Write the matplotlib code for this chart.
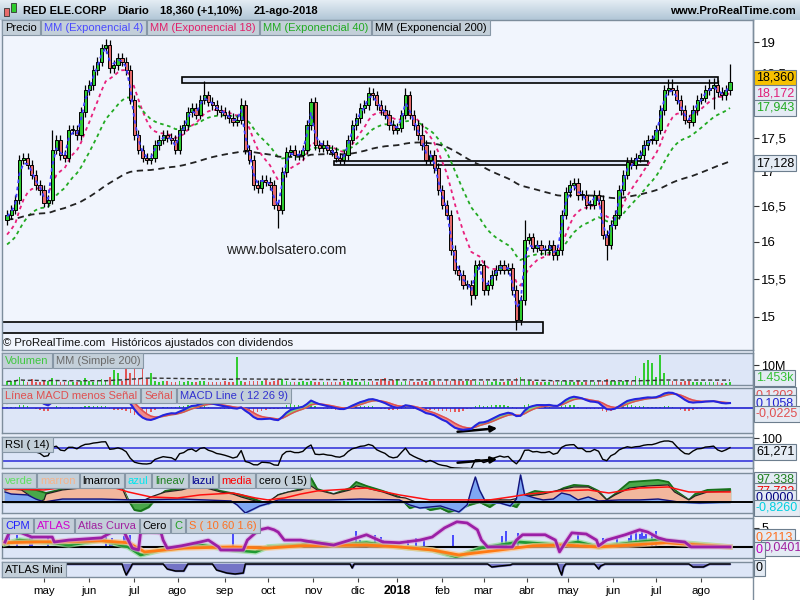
import matplotlib
matplotlib.use("Agg")
import matplotlib.pyplot as plt
from matplotlib.patches import Rectangle
from matplotlib.colors import LinearSegmentedColormap
import numpy as np
import pandas as pd

plt.rcParams["font.family"] = ["Liberation Sans", "DejaVu Sans"]

W, H = 800, 600

# ---------------------------------------------------------------- data
first_day, last_day = "2017-03-31", "2018-08-21"
holidays = ["2017-04-14", "2017-04-17", "2017-05-01", "2017-12-25", "2017-12-26",
            "2018-01-01", "2018-03-30", "2018-04-02", "2018-05-01"]

# one candle every two sessions, closes
closes = [
    16.38, 16.45, 16.59, 17.17, 17.20, 17.10, 16.95, 16.80, 16.73, 16.55,
    16.59, 17.32, 17.47, 17.24, 17.20, 17.62, 17.62, 17.54, 17.89, 18.23,
    18.31, 18.55, 18.68, 18.90, 18.95, 18.58, 18.63, 18.74, 18.68, 18.55,
    18.08, 17.54, 17.32, 17.20, 17.17, 17.20, 17.39, 17.47, 17.54, 17.50,
    17.47, 17.32, 17.62, 17.69, 17.89, 17.95, 17.85, 18.08, 18.15, 18.05,
    18.00, 17.92, 17.89, 17.85, 17.80, 17.74, 17.77, 18.00, 17.32, 17.17,
    16.80, 16.76, 16.88, 16.85, 16.80, 16.52, 16.45, 16.99, 17.29, 17.32,
    17.24, 17.24, 17.32, 17.69, 18.05, 17.39, 17.35, 17.39, 17.32, 17.29,
    17.20, 17.17, 17.24, 17.47, 17.69, 17.80, 17.95, 18.00, 18.19, 18.15,
    18.00, 17.92, 17.85, 17.69, 17.62, 17.65, 17.85, 18.15, 17.85, 17.69,
    17.54, 17.39, 17.17, 17.24, 17.05, 16.73, 16.52, 16.38, 15.89, 15.62,
    15.55, 15.42, 15.42, 15.29, 15.69, 15.69, 15.35, 15.42, 15.55, 15.62,
    15.69, 15.62, 15.65, 15.35, 14.96, 15.22, 16.03, 16.06, 15.92, 15.96,
    15.89, 15.89, 15.96, 15.82, 15.89, 16.38, 16.70, 16.80, 16.83, 16.66,
    16.66, 16.52, 16.52, 16.66, 16.59, 16.10, 15.96, 16.24, 16.38, 16.73,
    16.95, 17.14, 17.10, 17.20, 17.24, 17.39, 17.47, 17.47, 17.62, 17.92,
    18.23, 18.26, 18.23, 18.08, 17.92, 17.77, 17.74, 17.92, 18.08, 18.11,
    18.23, 18.26, 18.31, 18.20, 18.15, 18.23, 18.36,
]
first_open = 16.30
spike_highs = {11: 17.62, 24: 19.05, 48: 18.38, 57: 18.10, 74: 18.10, 88: 18.28,
               97: 18.27, 101: 17.72, 126: 16.30, 161: 18.40, 162: 18.40,
               171: 18.41, 172: 18.42, 176: 18.65}
spike_lows = {66: 16.19, 113: 15.15, 124: 14.83, 146: 15.75, 166: 17.64, 172: 17.94}

# volume in millions, one value per candle
volumes = [
    1.8, 2.0, 2.4, 4.0, 1.9, 1.6, 3.0, 1.7, 1.4, 1.9,
    2.0, 3.5, 1.8, 1.6, 1.7, 2.2, 1.5, 1.7, 2.0, 3.5,
    1.8, 1.6, 1.9, 3.0, 2.1, 4.0, 7.5, 6.0, 2.2, 9.0,
    6.0, 9.0, 3.5, 15.0, 3.0, 6.0, 2.2, 1.7, 1.9, 2.2,
    1.6, 1.4, 1.8, 1.7, 1.9, 1.5, 1.7, 2.2, 1.8, 1.6,
    1.4, 1.7, 1.5, 1.8, 1.4, 1.7, 14.0, 1.9, 1.6, 2.2,
    1.8, 2.0, 1.9, 2.6, 1.7, 2.0, 2.4, 3.0, 1.8, 1.6,
    1.7, 1.4, 1.8, 1.7, 1.9, 1.6, 1.4, 1.7, 1.5, 1.7,
    1.4, 1.6, 1.8, 1.7, 3.0, 1.6, 1.4, 1.9, 1.7, 2.0,
    1.7, 3.0, 3.5, 1.8, 2.6, 3.0, 1.6, 1.9, 2.2, 1.7,
    1.6, 1.8, 1.4, 1.9, 2.0, 2.2, 1.7, 2.4, 1.9, 2.6,
    2.0, 1.8, 2.2, 2.4, 1.9, 1.7, 2.0, 1.8, 1.6, 1.9,
    1.7, 1.6, 1.8, 2.2, 3.5, 4.0, 3.0, 2.2, 1.8, 1.6,
    1.7, 1.4, 1.6, 1.8, 1.7, 1.9, 2.2, 1.7, 1.6, 1.8,
    1.4, 1.7, 1.9, 1.6, 2.0, 1.8, 3.0, 2.2, 1.9, 1.7,
    2.0, 2.4, 2.2, 4.5, 3.5, 11.0, 12.5, 11.0, 4.0, 15.0,
    6.0, 2.2, 1.9, 2.0, 1.6, 1.8, 2.0, 1.7, 1.4, 1.6,
    1.3, 1.4, 1.6, 1.3, 1.2, 1.1, 1.4,
]

ema_days = [4, 18, 40, 200]
ema_seeds = [16.30, 16.03, 15.92, 16.31]
macd_seeds = {"fast": 16.22, "slow": 16.08, "signal": 0.10}
rsi_seeds = {"gain": 0.07, "loss": 0.04}

# drawn zones on the price chart: (from, to, low, high)
zones = [("2017-08-03", "2018-08-13", 18.342, 18.437),
         ("2017-11-15", "2018-06-26", 17.094, 17.152),
         ("2017-03-31", "2018-04-13", 14.794, 14.935)]

# proprietary indicators, (session, value)
verde = [(0, 109), (11, 101), (15, 94), (20, 70), (28, 101), (47, 125), (57, 117), (60, 16),
         (63, -62), (66, -70), (70, -39), (74, 39), (78, 86), (86, 109), (91, 133), (98, 117),
         (105, 86), (115, 55), (120, 31), (128, -16), (133, 55), (144, 101), (149, 187),
         (152, 101), (160, 62), (168, 109), (171, 156), (176, 125), (184, 86), (192, 39),
         (197, -47), (202, -23), (207, -62), (212, -47), (216, -78), (221, -55), (226, -23),
         (231, 0), (236, -39), (241, 16), (246, -23), (249, -39), (253, 55), (258, 86),
         (262, 78), (267, 70), (272, 109), (277, 133), (284, 125), (289, 86), (293, 16),
         (297, 62), (304, 156), (311, 164), (318, 172), (323, 156), (326, 94), (333, 16),
         (336, 62), (342, 94), (353, 101)]
marron = [(0, 94), (3, 101), (8, 94), (13, 39), (16, 0), (19, 16), (20, 62), (28, 94),
          (37, 109), (47, 125), (54, 125), (57, 109), (60, 0), (66, 0), (71, 39), (78, 78),
          (86, 94), (91, 117), (98, 109), (105, 78), (111, 62), (115, 39), (120, 16), (124, 0),
          (128, 0), (133, 55), (138, 78), (144, 94), (149, 125), (152, 94), (160, 62),
          (168, 94), (171, 125), (176, 109), (184, 78), (191, 39), (195, 31), (200, 0),
          (226, 0), (236, 16), (246, 16), (255, 47), (262, 62), (270, 94), (277, 117),
          (284, 117), (289, 78), (293, 16), (297, 55), (304, 109), (313, 125), (323, 133),
          (326, 78), (333, 16), (336, 47), (342, 78), (353, 86)]
azul = [(0, 78), (3, 62), (11, 55), (15, 23), (19, 0), (28, 23), (47, 23), (62, 16), (86, 23),
        (110, 8), (113, -23), (117, -86), (121, -55), (124, -31), (129, -8), (133, 16),
        (158, 16), (173, 23), (192, 16), (197, -23), (202, -47), (212, -31), (218, -62),
        (221, -78), (225, -23), (227, 94), (229, 195), (231, 94), (234, 0), (241, -8),
        (246, -31), (249, 23), (251, 211), (253, 55), (258, 31), (262, 16), (267, 23),
        (271, 70), (275, 55), (279, 16), (284, 39), (289, 8), (299, 16), (309, 16),
        (318, 23), (328, 0), (338, -8), (353, 0)]
media = [(0, 101), (19, 94), (39, 133), (52, 117), (60, 78), (71, 39), (84, 31), (95, 55),
         (111, 70), (122, 31), (128, 16), (136, 31), (144, 62), (152, 86), (176, 109),
         (192, 55), (207, 16), (221, 16), (236, 16), (246, 39), (255, 62), (270, 86),
         (284, 94), (294, 70), (309, 109), (323, 117), (333, 78), (353, 78)]

atlas_curva = [(0, 1.3), (2, 3.7), (5, 3.9), (8, 3.7), (13, 2.6), (23, 2.6), (24, 1.3),
               (31, 1.8), (47, 2.4), (52, 3.9), (58, 3.9), (60, 1.8), (62, -0.3), (65, -0.8),
               (66, 3.7), (70, 3.9), (76, 3.7), (77, 1.8), (79, -0.3), (86, 0.3), (95, 1.3),
               (99, 1.8), (104, 0.0), (105, -0.8), (116, -0.8), (118, 1.8), (122, 3.7),
               (124, 4.5), (128, 5.0), (131, 4.5), (133, 3.9), (136, 1.8), (144, 1.8),
               (152, 1.1), (160, 0.5), (168, 1.8), (176, 3.2), (184, 1.3), (192, 1.1),
               (202, 1.8), (208, 2.6), (214, 5.0), (220, 6.6), (225, 6.3), (230, 4.5),
               (232, 1.8), (235, 0.0), (247, 0.0), (249, 1.8), (252, 3.2), (263, 3.2),
               (268, 1.8), (270, -1.3), (273, 1.3), (276, 3.7), (283, 3.4), (288, 1.8),
               (289, 0.3), (293, 1.8), (302, 3.2), (309, 4.5), (313, 3.9), (318, 2.4),
               (322, 1.8), (331, 1.3), (334, 0.0), (353, 0.0)]
linea_c = [(0, 0.8), (7, 1.8), (23, 1.1), (31, 0.5), (47, 1.8), (60, 0.0), (66, -2.1),
           (76, -0.8), (95, 0.5), (111, -0.8), (122, -1.3), (128, 0.0), (144, 0.5), (149, 1.3),
           (160, 0.5), (176, 1.1), (192, 0.0), (208, -0.8), (220, -2.6), (232, -0.3),
           (250, 1.3), (270, 0.5), (279, 1.3), (289, 0.0), (305, 1.1), (318, 1.8),
           (329, 1.1), (353, 0.0)]
linea_s = [(0, 1.1), (15, 1.3), (47, 1.6), (60, 1.1), (68, -1.3), (87, -0.3), (111, 0.0),
           (128, -0.3), (144, 0.3), (176, 0.5), (192, 0.0), (208, -0.8), (221, -2.1),
           (241, -0.8), (257, 0.3), (273, 0.5), (289, 0.0), (305, 0.5), (322, 1.1),
           (338, 0.5), (353, 0.0)]
cpm = [(2, 3.7), (6, 3.2), (12, 2.4), (13, 2.4), (21, 2.4), (49, 2.6), (51, 1.8), (52, 2.4),
       (58, 2.9), (59, 2.6), (61, 3.2), (111, 4.2), (171, 4.2), (173, 1.8), (180, 3.2),
       (183, 2.6), (184, 1.8), (196, 1.8), (200, 2.4), (204, 1.8), (218, 3.2), (242, 2.9),
       (244, 4.2), (250, 3.7), (279, 3.9), (291, 2.4), (298, 2.9), (304, 2.4), (305, 3.9),
       (307, 4.5), (309, 3.4), (310, 4.2), (311, 2.9), (312, 3.4), (315, 3.2), (317, 4.2)]
atlas_neg = [(105, -0.9), (106, -0.9), (107, -0.9), (108, -0.9), (109, -0.9), (110, -0.9),
             (111, -0.9), (112, -0.9), (113, -0.9), (114, -0.9), (115, -0.9), (116, -0.9)]
atlas_mini = [(0, 0), (57, 0), (58, -6), (59, -11), (61, -4), (62, 0), (77, 0), (79, -5),
              (83, -7), (87, -7), (89, 0), (101, 0), (103, -6), (108, -9), (112, -10),
              (116, -9), (117, 0), (168, 0), (169, -4), (170, 0), (235, 0), (237, -3),
              (241, -2), (246, -1), (247, 0), (269, 0), (270, -6), (271, -11), (272, -3),
              (273, 0), (287, 0), (289, -5), (290, -2), (292, 0), (333, 0), (335, -3),
              (340, -3), (343, 0), (353, 0)]

month_labels = ["may", "jun", "jul", "ago", "sep", "oct", "nov", "dic", "2018",
                "feb", "mar", "abr", "may", "jun", "jul", "ago"]
price_ticks = [15, 15.5, 16, 16.5, 17, 17.5, 18, 18.5, 19]

header = ["RED ELE.CORP", "Diario", "18,360 (+1,10%)", "21-ago-2018"]
price_legend = ["Precio", "MM (Exponencial 4)", "MM (Exponencial 18)",
                "MM (Exponencial 40)", "MM (Exponencial 200)"]
price_values = ["18,360", "18,172", "17,943", "17,128"]
vol_legend = ["Volumen", "MM (Simple 200)"]
macd_legend = ["Línea MACD menos Señal", "Señal", "MACD Line ( 12 26 9)"]
rsi_legend = ["RSI ( 14)"]
verde_legend = ["verde", "marron", "lmarron", "azul", "lineav", "lazul", "media", "cero ( 15)"]
cpm_legend = ["CPM", "ATLAS", "Atlas Curva", "Cero", "C", "S ( 10 60 1.6)"]
mini_legend = ["ATLAS Mini"]
panel_values = ["1.453k", "0,1203", "0,1058", "-0,0225", "61,271", "97,338", "77,732",
                "0,0000", "-0,8260", "0,2113", "0,0401", "0", "0"]

# ---------------------------------------------------------------- calc
days = pd.bdate_range(first_day, last_day)
days = days[~days.isin(pd.to_datetime(holidays))]
n_days = len(days)
bar_s = np.arange(n_days)[::-1][::2][:len(closes)][::-1]

c = np.array(closes)
o = np.r_[first_open, c[:-1]]
hi = np.maximum(o, c) * 1.004
lo = np.minimum(o, c) * 0.996
for k, v in spike_highs.items():
    hi[k] = v
for k, v in spike_lows.items():
    lo[k] = v
up = c >= o


def ema(values, span, seed):
    a = 2.0 / (span + 1.0)
    out = np.empty(len(values))
    prev = seed
    for i, v in enumerate(values):
        prev = prev + a * (v - prev)
        out[i] = prev
    return out


# two sessions per candle, so periods are halved
emas = [ema(c, d / 2.0, s) for d, s in zip(ema_days, ema_seeds)]
macd = ema(c, 6, macd_seeds["fast"]) - ema(c, 13, macd_seeds["slow"])
signal = ema(macd, 4.5, macd_seeds["signal"])
hist = macd - signal

gain, loss = rsi_seeds["gain"], rsi_seeds["loss"]
rsi = []
for d in np.diff(np.r_[first_open, c]):
    gain = (gain * 6 + max(d, 0)) / 7
    loss = (loss * 6 + max(-d, 0)) / 7
    rsi.append(100 - 100 / (1 + gain / loss))
rsi = np.array(rsi)
vol = np.array(volumes)
vol_ma = pd.Series(vol).rolling(100, min_periods=1).mean().to_numpy()

# month starts, from May 2017 on (April is the first, partial month)
month_s = [i for i in range(1, n_days) if days[i].month != days[i - 1].month]
month_s = [s for s in month_s if days[s] >= pd.Timestamp("2017-05-01")]


def sess(date):
    return int(np.searchsorted(days, pd.Timestamp(date)))


def xy(pairs):
    a = np.array(pairs, dtype=float)
    return a[:, 0], a[:, 1]


# ---------------------------------------------------------------- figure
GREEN, RED = "#2ecc2e", "#e66b6b"
BOX_FC, BOX_EC = "#c3cfd9", "#8797a6"
PANEL_FC = "#dde6f7"
XLIM = (-1.46, 364.2)

fig = plt.figure(figsize=(8, 6), dpi=100, facecolor="white")
renderer = fig.canvas.get_renderer()


def rect(x0, y0, x1, y1):
    return [x0 / W, 1 - y1 / H, (x1 - x0) / W, (y1 - y0) / H]


bg = fig.add_axes(rect(0, 20, 753, 578))
bg.set_facecolor("#e6ecf7")
bg.set_xticks([])
bg.set_yticks([])
for sp in bg.spines.values():
    sp.set_visible(False)

# title bar
ax_t = fig.add_axes(rect(0, 0, 800, 20))
ax_t.imshow(np.linspace(0, 1, 20)[:, None], aspect="auto", extent=(0, 1, 0, 1),
            cmap=LinearSegmentedColormap.from_list("bar", ["#e3ecf3", "#b2c7d7"]))
ax_t.axis("off")
x = 23
for txt in header:
    t = fig.text(x / W, 1 - 10.5 / H, txt, fontsize=8.0, weight="bold", va="center")
    x += t.get_window_extent(renderer).width + 11
fig.text(796 / W, 1 - 10.5 / H, "www.ProRealTime.com", fontsize=8.2, weight="bold",
         va="center", ha="right")
for x0, y0, hh, col in [(4, 8, 8, RED), (11, 3, 9, GREEN)]:
    fig.add_artist(Rectangle((x0 / W, 1 - (y0 + hh) / H), 5 / W, hh / H, transform=fig.transFigure,
                             fc=col, ec="#333333", lw=0.6, zorder=5))


def panel(y0, y1, fc=PANEL_FC):
    a = fig.add_axes(rect(2, y0, 753, y1))
    a.set_facecolor(fc)
    a.set_xlim(*XLIM)
    a.set_xticks([])
    for sp in a.spines.values():
        sp.set_color("#7d8d9c")
        sp.set_linewidth(1.0)
    a.yaxis.tick_right()
    a.tick_params(axis="y", direction="out", length=4, labelsize=9, pad=2, color="#333333")
    return a


# price
ax = panel(20, 350, fc="#f1f5fd")
ax.set_yscale("log")
ax.set_ylim(14.579, 19.363)
ax.set_yticks(price_ticks)
ax.set_yticklabels([f"{t:g}".replace(".", ",") for t in price_ticks])
ax.yaxis.set_minor_locator(matplotlib.ticker.NullLocator())
ax.tick_params(axis="y", labelsize=9.5)

for (d0, d1, p0, p1), ext in zip(zones, [0, 0, 3]):
    s0 = sess(d0) - ext
    ax.add_patch(Rectangle((s0, p0), sess(d1) - s0, p1 - p0, fc="#dfe7f8", ec="black",
                           lw=1.2, zorder=2))

ema_colors = ["#3d3dff", "#e8207c", "#22aa22", "#222222"]
ema_dash = [(0, (2, 2)), (0, (2, 2)), (0, (2, 2)), (0, (3.5, 2.5))]
for line, col, ls in zip(emas, ema_colors, ema_dash):
    ax.plot(bar_s, line, color=col, lw=1.3, ls=ls, zorder=5 if col == "#3d3dff" else 3)

ax.vlines(bar_s, lo, hi, color="black", lw=0.9, zorder=3)
body = np.maximum(np.abs(c - o), 0.012)
ax.bar(bar_s, body, bottom=np.minimum(o, c), width=1.55, color=np.where(up, GREEN, RED),
       edgecolor="black", lw=0.7, zorder=4)

fig.text(286 / W, 1 - 250 / H, "www.bolsatero.com", fontsize=10, ha="center", va="center",
         color="#222222")
fig.text(3 / W, 1 - 343 / H, "© ProRealTime.com  Históricos ajustados con dividendos",
         fontsize=8.2, va="center", color="#111111")

# volume
av = panel(353, 385)
av.set_ylim(0, 16)
av.set_yticks([10])
av.set_yticklabels(["10M"])
av.bar(bar_s, vol, width=0.8, color=np.where(up, "#33cc33", "#e05555"), zorder=3)
av.plot(bar_s, vol_ma, color="#333333", lw=1, ls=(0, (3, 2)), zorder=4)

# macd
am = panel(388, 433)
am.set_ylim(-0.625, 0.5)
am.set_yticks([])
am.bar(bar_s, hist, width=0.7, color=np.where(hist >= 0, "#33cc33", "#e85a5a"), zorder=2)
am.axhline(0, color="#2020d0", lw=1.2, zorder=3)
am.fill_between(bar_s, macd, signal, where=macd >= signal, color="#7fd67f", interpolate=True, zorder=3)
am.fill_between(bar_s, macd, signal, where=macd < signal, color="#f08a8a", interpolate=True, zorder=3)
am.plot(bar_s, signal, color="#e05050", lw=1.1, zorder=4)
am.plot(bar_s, macd, color="#2424e0", lw=1.5, zorder=5)
am.annotate("", xy=(241, -0.50), xytext=(219, -0.60),
            arrowprops=dict(arrowstyle="-|>", color="black", lw=1.8, mutation_scale=9))

# rsi
ar = panel(437, 468)
ar.set_ylim(8.5, 103.8)
ar.set_yticks([100])
ar.set_yticklabels(["100"])
for lvl in (70, 30):
    ar.axhline(lvl, color="#2a2ad8", lw=1.1, zorder=2)
ar.plot(bar_s, rsi, color="black", lw=1.0, zorder=3)
ar.annotate("", xy=(241, 36), xytext=(219, 24),
            arrowprops=dict(arrowstyle="-|>", color="black", lw=1.8, mutation_scale=9))

# verde / marron
ag = panel(473, 513)
ag.set_ylim(-86, 226)
ag.set_yticks([])
sx, sv = xy(verde)
ag.fill_between(sx, 0, sv, color="#49a849", zorder=2)
ag.plot(sx, sv, color="#17701a", lw=1.3, zorder=2)
sx, sv = xy(marron)
ag.fill_between(sx, 0, sv, color="#f2b79d", zorder=3)
ag.plot(sx, sv, color="#222222", lw=0.9, zorder=3)
sx, sv = xy(azul)
ag.fill_between(sx, 0, sv, color="#7fa7f2", zorder=4)
ag.plot(sx, sv, color="#12127a", lw=1.0, zorder=4)
sx, sv = xy(media)
ag.plot(sx, sv, color="#ff1010", lw=1.1, zorder=5)
ag.axhline(0, color="black", lw=1.4, zorder=5)

# cpm / atlas
ac = panel(518, 558)
ac.set_ylim(-2.9, 7.6)
ac.set_yticks([5])
ac.set_yticklabels(["5"])
sx, sv = xy(cpm)
ac.vlines(sx, 0, sv, color="#1f1fff", lw=1.1, zorder=2)
sx, sv = xy(atlas_neg)
ac.vlines(sx, 0, sv, color="#c020c0", lw=0.8, zorder=2)
ac.axhline(0, color="black", lw=1.5, zorder=3)
sx, sv = xy(linea_c)
ac.plot(sx, sv, color="#8fdc8f", lw=4.0, alpha=0.7, zorder=4)
ac.plot(sx, sv, color="#1f9a32", lw=2.0, zorder=4)
sx, sv = xy(linea_s)
ac.plot(sx, sv, color="#ffc48a", lw=4.0, alpha=0.7, zorder=5)
ac.plot(sx, sv, color="#ff7a14", lw=2.0, zorder=5)
sx, sv = xy(atlas_curva)
ac.plot(sx, sv, color="#d9a3dd", lw=3.6, alpha=0.6, zorder=6)
ac.plot(sx, sv, color="#9b1fa6", lw=2.0, zorder=6)

# atlas mini
an = panel(562, 577)
an.set_ylim(-13, 2)
an.set_yticks([])
sx, sv = xy(atlas_mini)
an.fill_between(sx, 0, sv, color="#7474c6", zorder=2)
an.plot(sx, sv, color="black", lw=1.1, zorder=3)

# date axis
ad = fig.add_axes(rect(2, 578, 753, 600))
ad.set_xlim(*XLIM)
ad.set_ylim(0, 1)
ad.axis("off")
ad.vlines(month_s, 0.8, 1.0, color="#444444", lw=0.8)
for s, lab in zip(month_s, month_labels):
    ad.text(s, 0.42, lab, ha="center", va="center", fontsize=8.8 if lab == "2018" else 8.2,
            weight="bold" if lab == "2018" else "normal")
fig.add_artist(plt.Line2D([753 / W, 753 / W], [0, 1 - 20 / H], color="#7d8d9c", lw=1.0))


# legend rows
def legend_row(y_top, labels, colors, h=15, pad=3, size=8.0):
    x = 2
    for lab, col in zip(labels, colors):
        t = fig.text((x + pad) / W, 1 - (y_top + h / 2 + 0.5) / H, lab, color=col, fontsize=size,
                     ha="left", va="center", zorder=11)
        w = t.get_window_extent(renderer).width
        fig.add_artist(Rectangle((x / W, 1 - (y_top + h) / H), (w + 2 * pad) / W, h / H,
                                 transform=fig.transFigure, fc=BOX_FC, ec=BOX_EC, lw=0.8, zorder=10))
        x += w + 2 * pad + 1


legend_row(20, price_legend, ["black", "#4a4aff", "#e0206a", "#22aa22", "black"])
legend_row(353, vol_legend, ["#3ec83e", "#6a6a6a"])
legend_row(388, macd_legend, ["#e05050", "#e05050", "#3030d0"])
legend_row(437, rsi_legend, ["black"])
legend_row(473, verde_legend, ["#5ee05e", "#f6b48c", "black", "#00e6ef", "#1f801f", "#000090",
                               "#ff0000", "black"])
legend_row(518, cpm_legend, ["#2020ff", "#d000d0", "#a020a0", "black", "#20a020", "#ff7020"])
legend_row(562, mini_legend, ["black"])


def value_box(y, text, color, fc="#e4ebf4", x=756, size=9.0):
    fig.text(x / W, 1 - y / H, text, color=color, fontsize=size, ha="left", va="center",
             zorder=12, bbox=dict(boxstyle="square,pad=0.15", fc=fc, ec="#6d7e8e", lw=0.8))


for txt, y, col, fc in zip(price_values, [78, 93, 108, 163],
                           ["black", "#e0207a", "#22aa22", "black"],
                           ["#f7c100", "#e4ebf4", "#e4ebf4", "#e4ebf4"]):
    value_box(y, txt, col, fc)

for txt, y, col, x in zip(panel_values,
                          [378, 395, 403, 414, 452, 480, 491, 498, 508, 537, 548, 550, 568],
                          ["#33c033", "#e05050", "#2020d0", "#e05050", "black", "#208020",
                           "#ee0000", "#000080", "#00d0e0", "#ff7020", "#a020a0", "#c000c0",
                           "black"],
                          [756, 756, 756, 756, 756, 756, 756, 756, 756, 756, 763, 756, 756]):
    value_box(y, txt, col, x=x)

fig.savefig("out.png", dpi=100, facecolor=fig.get_facecolor())
